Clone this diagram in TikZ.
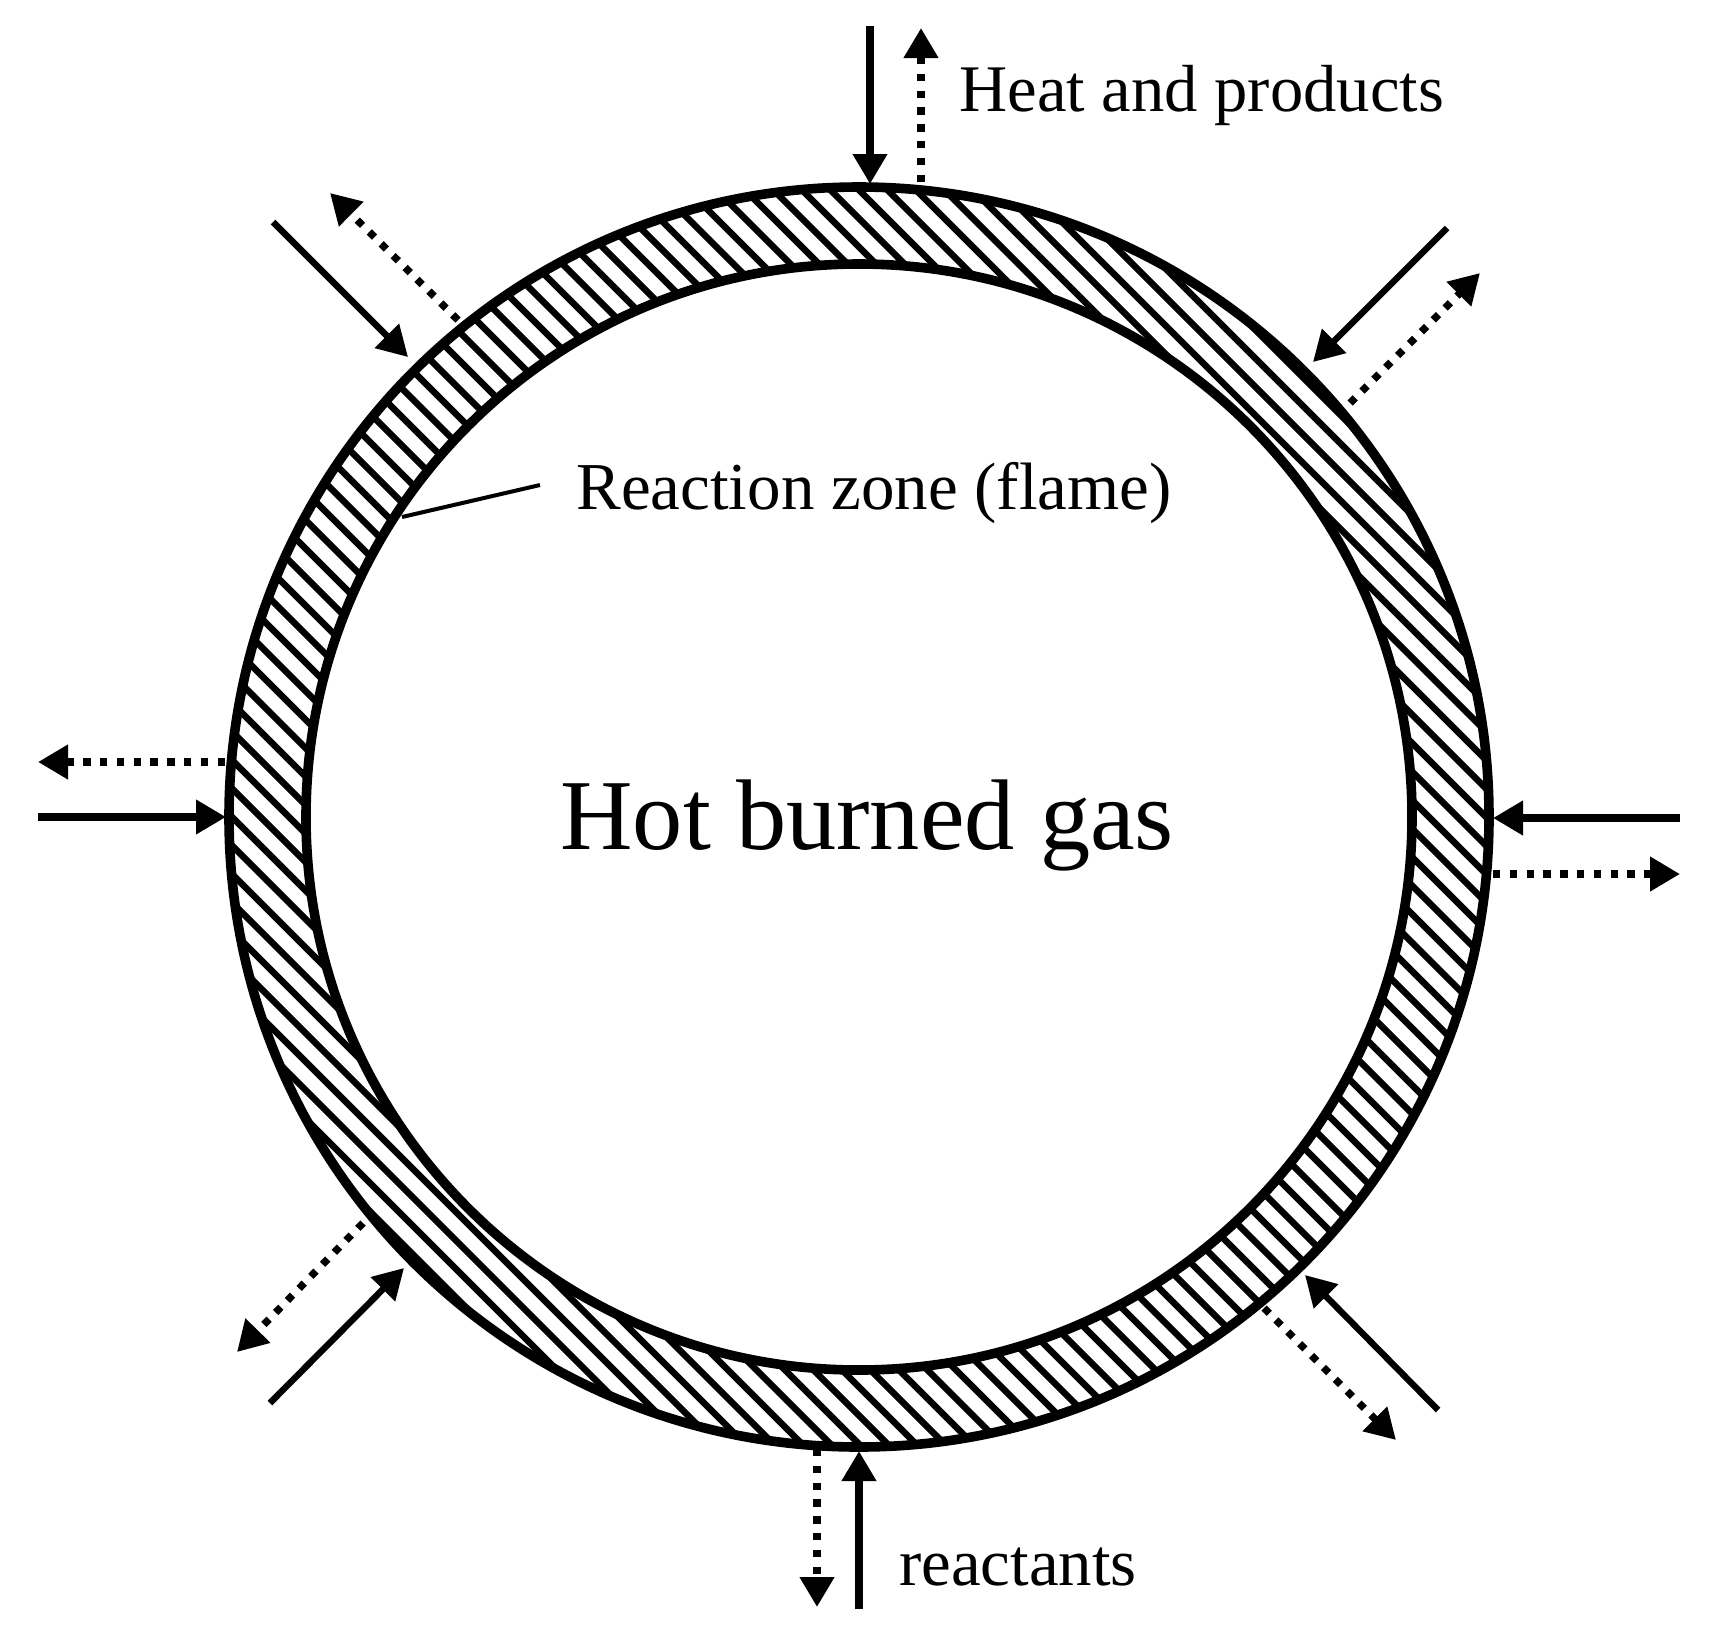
\documentclass[tikz,border=0pt]{standalone}
\usepackage{fontspec}
\setmainfont{Liberation Serif}
\usetikzlibrary{arrows.meta}
\tikzset{
    wall/.style={draw,line width=4.8pt},
    hatchline/.style={line width=3.2pt},
    inflow/.style={-{Triangle[length=15pt,width=16.5pt]},line width=3.6pt},
    slantin/.style={-{Triangle[length=15pt,width=16.5pt]},line width=3.2pt},
    outflow/.style={-{Triangle[length=15pt,width=16.5pt]},line width=3.7pt,dash pattern=on 3.7pt off 4.7pt},
    leader/.style={-,line width=2pt}
}

\begin{document}
\begin{tikzpicture}[x=0.5pt,y=-0.5pt]

    \useasboundingbox (0,0) rectangle (1724,1640);

    \coordinate (centre) at (859,817);

    % hatched band
    \begin{scope}[even odd rule]
        \clip (centre) circle (630) (centre) circle (553);
        \foreach \k in {-33,...,33} {
            \draw[hatchline] ({859+28.5*\k/2-800},{817-28.5*\k/2-800}) -- ({859+28.5*\k/2+800},{817-28.5*\k/2+800});
        }
    \end{scope}

    \node[circle,wall,minimum size=630pt,inner sep=0pt] (outer) at (centre) {};
    \node[circle,wall,minimum size=553pt,inner sep=0pt] (inner) at (centre) {};

    \node[anchor=base west,font=\fontsize{50.2pt}{50pt}\selectfont,inner sep=0pt] (gas) at (560,849) {Hot burned gas};
    \node[anchor=base west,font=\fontsize{33.3pt}{33pt}\selectfont,inner sep=0pt] (heat) at (959,111) {Heat and products};
    \node[anchor=base west,font=\fontsize{33.5pt}{33pt}\selectfont,inner sep=0pt] (zone) at (576,509) {Reaction zone (flame)};
    \node[anchor=base west,font=\fontsize{33.4pt}{33pt}\selectfont,inner sep=0pt] (react) at (899,1585) {reactants};

    % leader of the flame label
    \coordinate (zonefoot) at (540,485);
    \coordinate (zonetip) at (402,517);
    \draw[leader] (zonefoot) -- (zonetip);

    % top
    \coordinate (tA) at (870,26);   \coordinate (tB) at (870,184);
    \coordinate (tC) at (921,182);  \coordinate (tD) at (921,28);
    \draw[inflow] (tA) -- (tB);
    \draw[outflow] (tC) -- (tD);

    % upper right
    \coordinate (neA) at (1447,228); \coordinate (neB) at (1313,362);
    \coordinate (neC) at (1350,403); \coordinate (neD) at (1480,273);
    \draw[slantin] (neA) -- (neB);
    \draw[outflow] (neC) -- (neD);

    % upper left
    \coordinate (nwA) at (273,222);  \coordinate (nwB) at (408,357);
    \coordinate (nwC) at (458,320);  \coordinate (nwD) at (330,193);
    \draw[slantin] (nwA) -- (nwB);
    \draw[outflow] (nwC) -- (nwD);

    % left
    \coordinate (wA) at (38,817);    \coordinate (wB) at (226,817);
    \coordinate (wC) at (225,762);   \coordinate (wD) at (38,762);
    \draw[inflow] (wA) -- (wB);
    \draw[outflow] (wC) -- (wD);

    % right
    \coordinate (eA) at (1680,818);  \coordinate (eB) at (1493,818);
    \coordinate (eC) at (1493,874);  \coordinate (eD) at (1680,874);
    \draw[inflow] (eA) -- (eB);
    \draw[outflow] (eC) -- (eD);

    % lower left
    \coordinate (swA) at (270,1403); \coordinate (swB) at (404,1268);
    \coordinate (swC) at (363,1223); \coordinate (swD) at (237,1352);
    \draw[slantin] (swA) -- (swB);
    \draw[outflow] (swC) -- (swD);

    % lower right
    \coordinate (seA) at (1438,1410); \coordinate (seB) at (1305,1275);
    \coordinate (seC) at (1264,1308); \coordinate (seD) at (1396,1440);
    \draw[slantin] (seA) -- (seB);
    \draw[outflow] (seC) -- (seD);

    % bottom
    \coordinate (sA) at (859,1609);  \coordinate (sB) at (859,1451);
    \coordinate (sC) at (817,1449);  \coordinate (sD) at (817,1607);
    \draw[inflow] (sA) -- (sB);
    \draw[outflow] (sC) -- (sD);

\end{tikzpicture}
\end{document}
